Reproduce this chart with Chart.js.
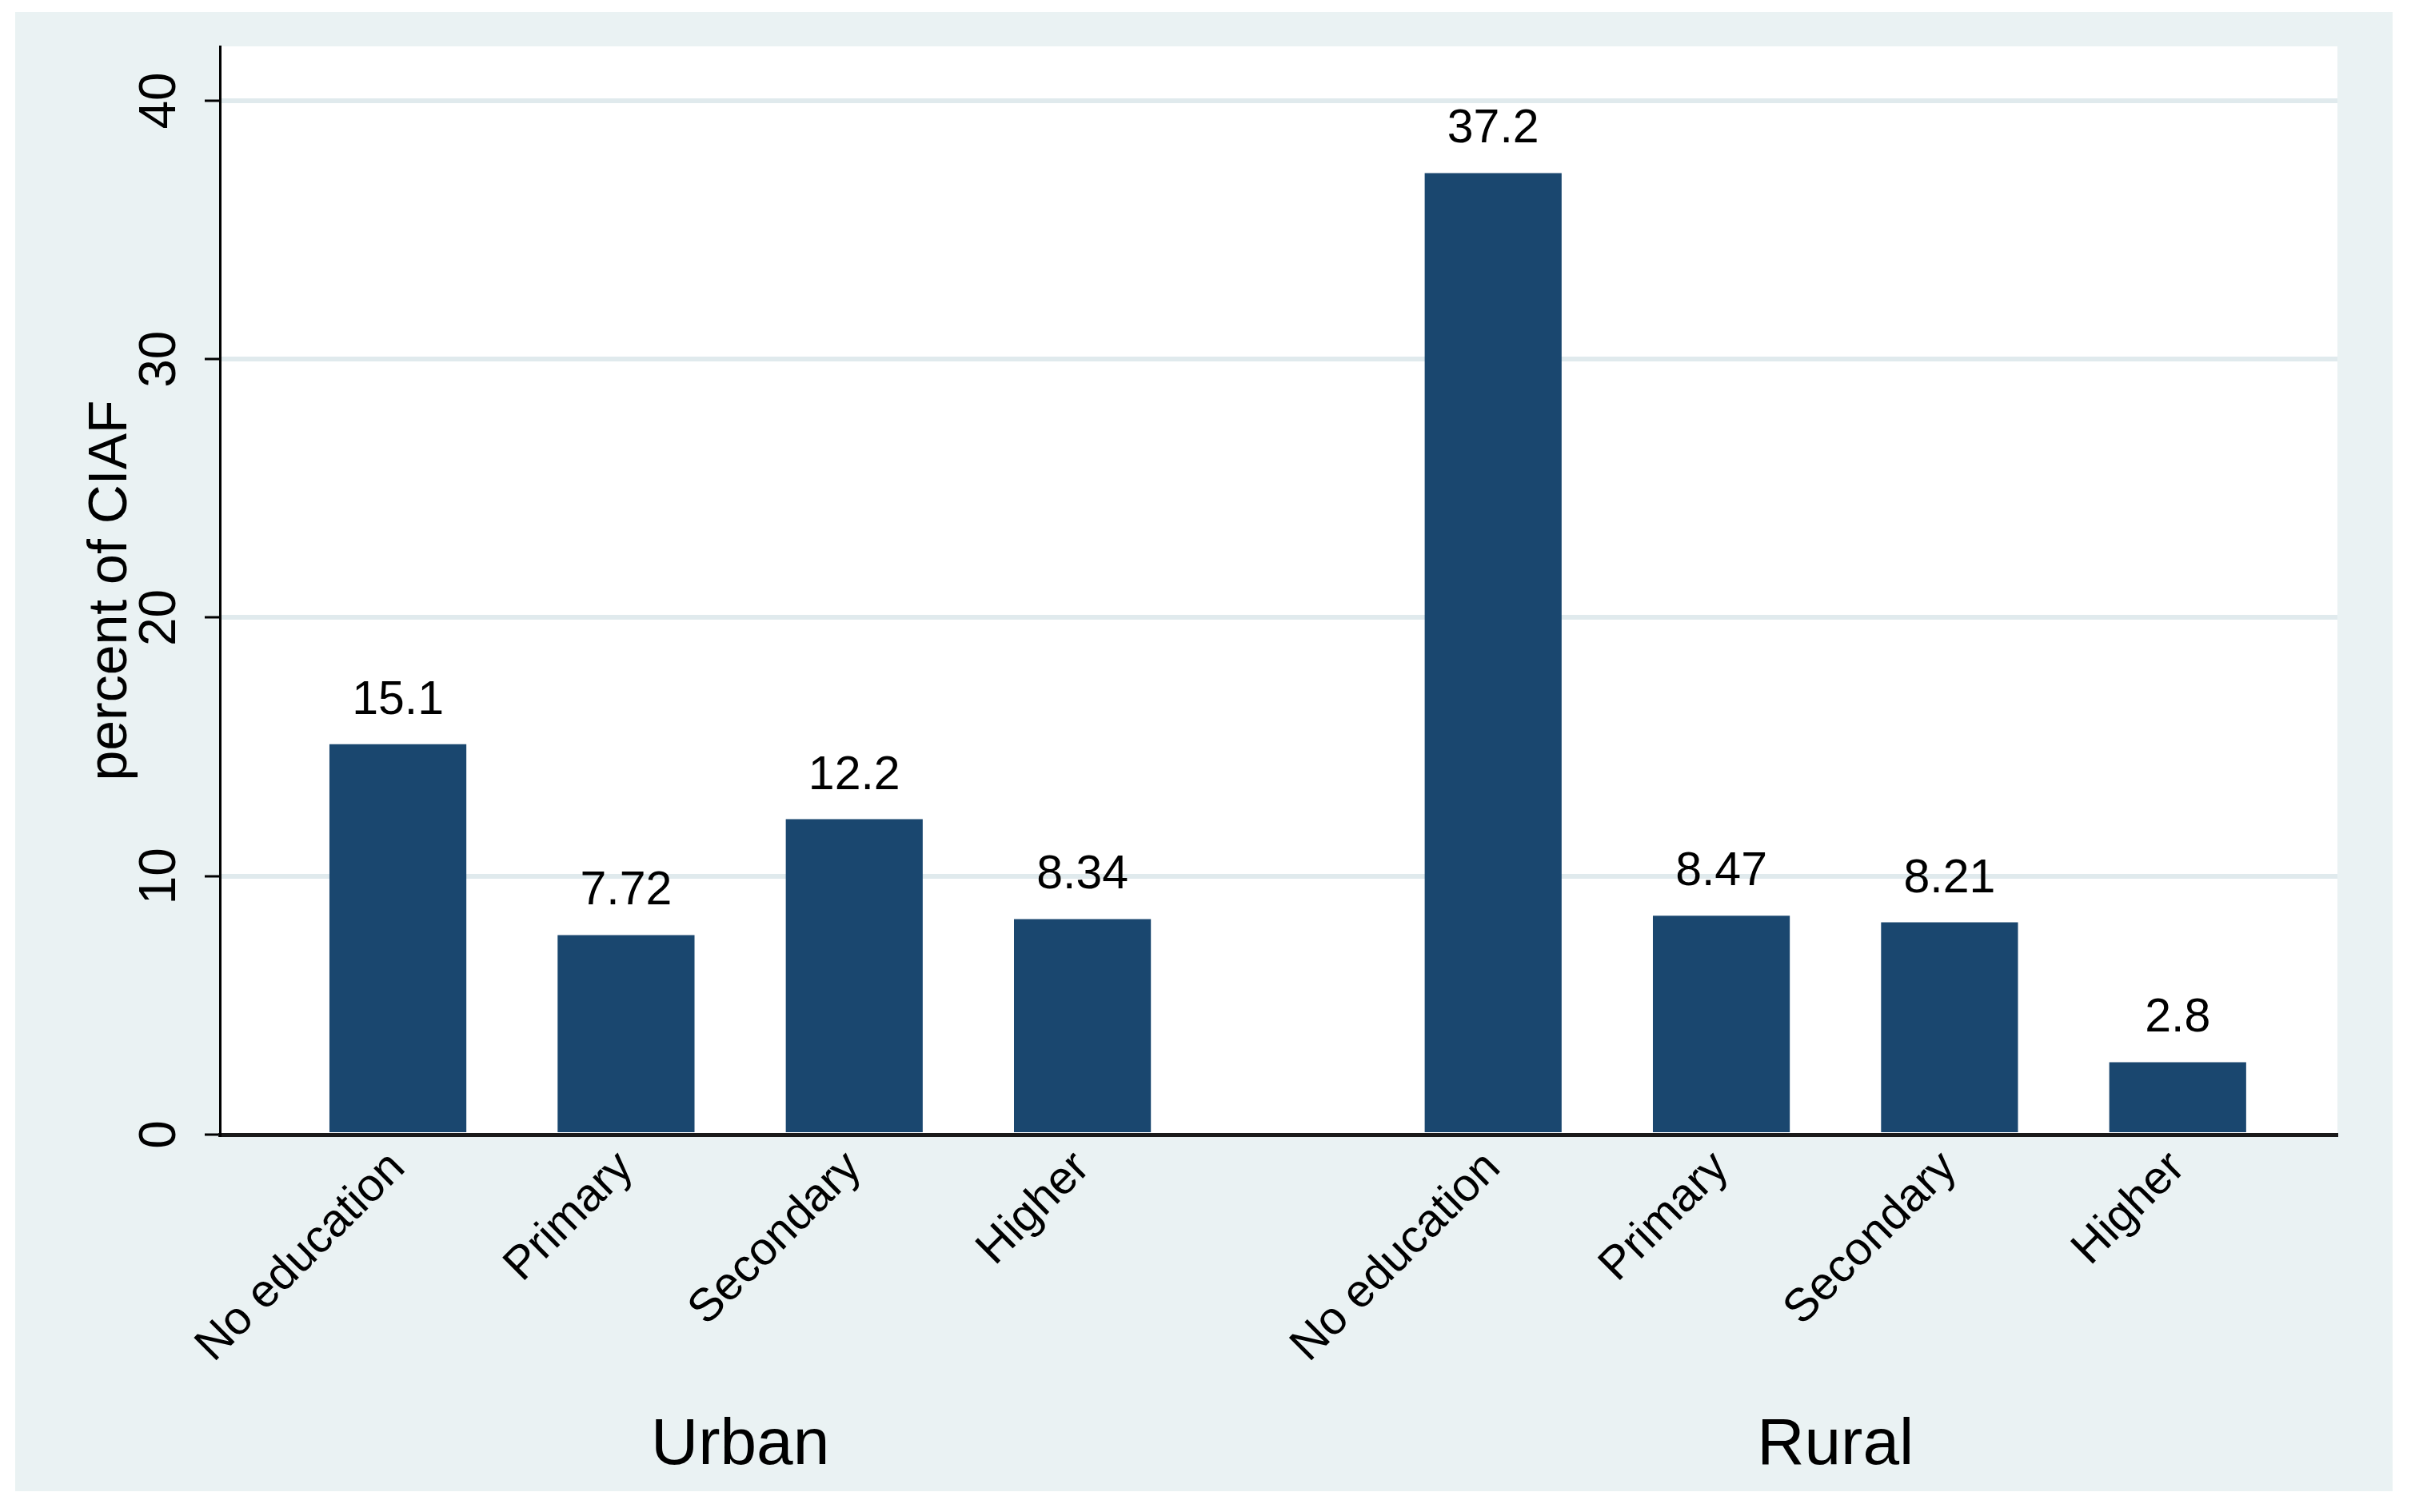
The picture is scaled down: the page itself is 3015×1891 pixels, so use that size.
<!DOCTYPE html>
<html>
<head>
<meta charset="utf-8">
<script src="https://cdn.jsdelivr.net/npm/chart.js@4.4.0/dist/chart.umd.min.js"></script>
<style>
  html, body { margin: 0; padding: 0; background: #fff; }
</style>
</head>
<body>
<canvas id="ciafChart" width="3015" height="1891"></canvas>
<script>
// data
const levels = ["No education", "Primary", "Secondary", "Higher"];
const groups = ["Urban", "Rural"];
const urbanValues = [15.1, 7.72, 12.2, 8.34];
const ruralValues = [37.2, 8.47, 8.21, 2.8];
const yTicks = [0, 10, 20, 30, 40];

// layout: extra space between the two groups, in bar slots
const groupGap = 0.8;

const navy = "rgb(26,71,111)";
const bgGray = "rgb(234,242,243)";
const gridGray = "rgb(224,234,237)";

// one point per bar, x from group index and level index
const groupValues = [urbanValues, ruralValues];
const points = [];
const tickLabels = [];
groupValues.forEach((vals, g) => {
    vals.forEach((v, i) => {
        points.push({ x: g * (levels.length + groupGap) + i, y: v });
        tickLabels.push(levels[i]);
    });
});

Chart.defaults.font.family = "'Liberation Sans', Arial, sans-serif";
Chart.defaults.color = "#000";

// gray frame and white plot region
const backgroundPlugin = {
    id: "background",
    beforeDraw(chart) {
        const { ctx, chartArea: a } = chart;
        ctx.save();
        ctx.fillStyle = "#fff";
        ctx.fillRect(0, 0, chart.width, chart.height);
        ctx.fillStyle = bgGray;
        ctx.fillRect(19, 15, 2973, 1850);
        ctx.fillStyle = "#fff";
        ctx.fillRect(a.left, a.top, a.right - a.left, a.bottom - a.top);
        ctx.restore();
    }
};

// numbers above the bars and the group names under the axis
const labelsPlugin = {
    id: "barLabels",
    afterDraw(chart) {
        const { ctx, chartArea: a } = chart;
        const meta = chart.getDatasetMeta(0);
        const xScale = chart.scales.x;
        ctx.save();
        ctx.fillStyle = "#000";
        ctx.textAlign = "center";
        ctx.textBaseline = "alphabetic";
        ctx.font = "59px 'Liberation Sans', Arial, sans-serif";
        meta.data.forEach((bar, i) => {
            ctx.fillText(String(points[i].y), bar.x, bar.y - 38);
        });

        ctx.font = "82px 'Liberation Sans', Arial, sans-serif";
        ctx.textBaseline = "middle";
        groups.forEach((name, g) => {
            const first = points[g * levels.length].x;
            const last = points[g * levels.length + levels.length - 1].x;
            const cx = (xScale.getPixelForValue(first) + xScale.getPixelForValue(last)) / 2;
            ctx.fillText(name, cx, a.bottom + 389);
        });
        ctx.restore();
    }
};

new Chart(document.getElementById("ciafChart"), {
    type: "bar",
    data: {
        datasets: [{
            data: points,
            backgroundColor: navy,
            borderWidth: 0,
            categoryPercentage: 1,
            barPercentage: 0.6
        }]
    },
    options: {
        responsive: false,
        devicePixelRatio: 1,
        animation: false,
        layout: { padding: { left: 0, top: 58, right: 92, bottom: 0 } },
        plugins: {
            legend: { display: false },
            tooltip: { enabled: false }
        },
        scales: {
            x: {
                type: "linear",
                offset: false,
                min: -0.78,
                max: 8.5,
                afterFit: s => { s.height = 472; },
                afterBuildTicks: s => { s.ticks = points.map(p => ({ value: p.x })); },
                grid: { display: false },
                border: { display: true, color: "#1a1a1a", width: 5 },
                ticks: {
                    autoSkip: false,
                    minRotation: 45,
                    maxRotation: 45,
                    padding: 0,
                    font: { size: 58 },
                    callback: (v, i) => tickLabels[i]
                }
            },
            y: {
                min: 0,
                max: 42.1,
                afterFit: s => { s.width = 275; },
                afterBuildTicks: s => { s.ticks = yTicks.map(v => ({ value: v })); },
                grid: {
                    color: ctx => ctx.tick && ctx.tick.value === 0 ? "rgba(0,0,0,0)" : gridGray,
                    lineWidth: 6,
                    drawTicks: true,
                    tickColor: "#000",
                    tickLength: 19,
                    tickWidth: 3
                },
                border: { display: true, color: "#000", width: 3 },
                ticks: {
                    minRotation: 90,
                    maxRotation: 90,
                    crossAlign: "center",
                    padding: 19,
                    font: { size: 64 }
                },
                title: {
                    display: true,
                    text: "percent of CIAF",
                    font: { size: 68, lineHeight: 1.2 },
                    padding: { top: 98, bottom: 0 }
                }
            }
        }
    },
    plugins: [backgroundPlugin, labelsPlugin]
});
</script>
</body>
</html>
